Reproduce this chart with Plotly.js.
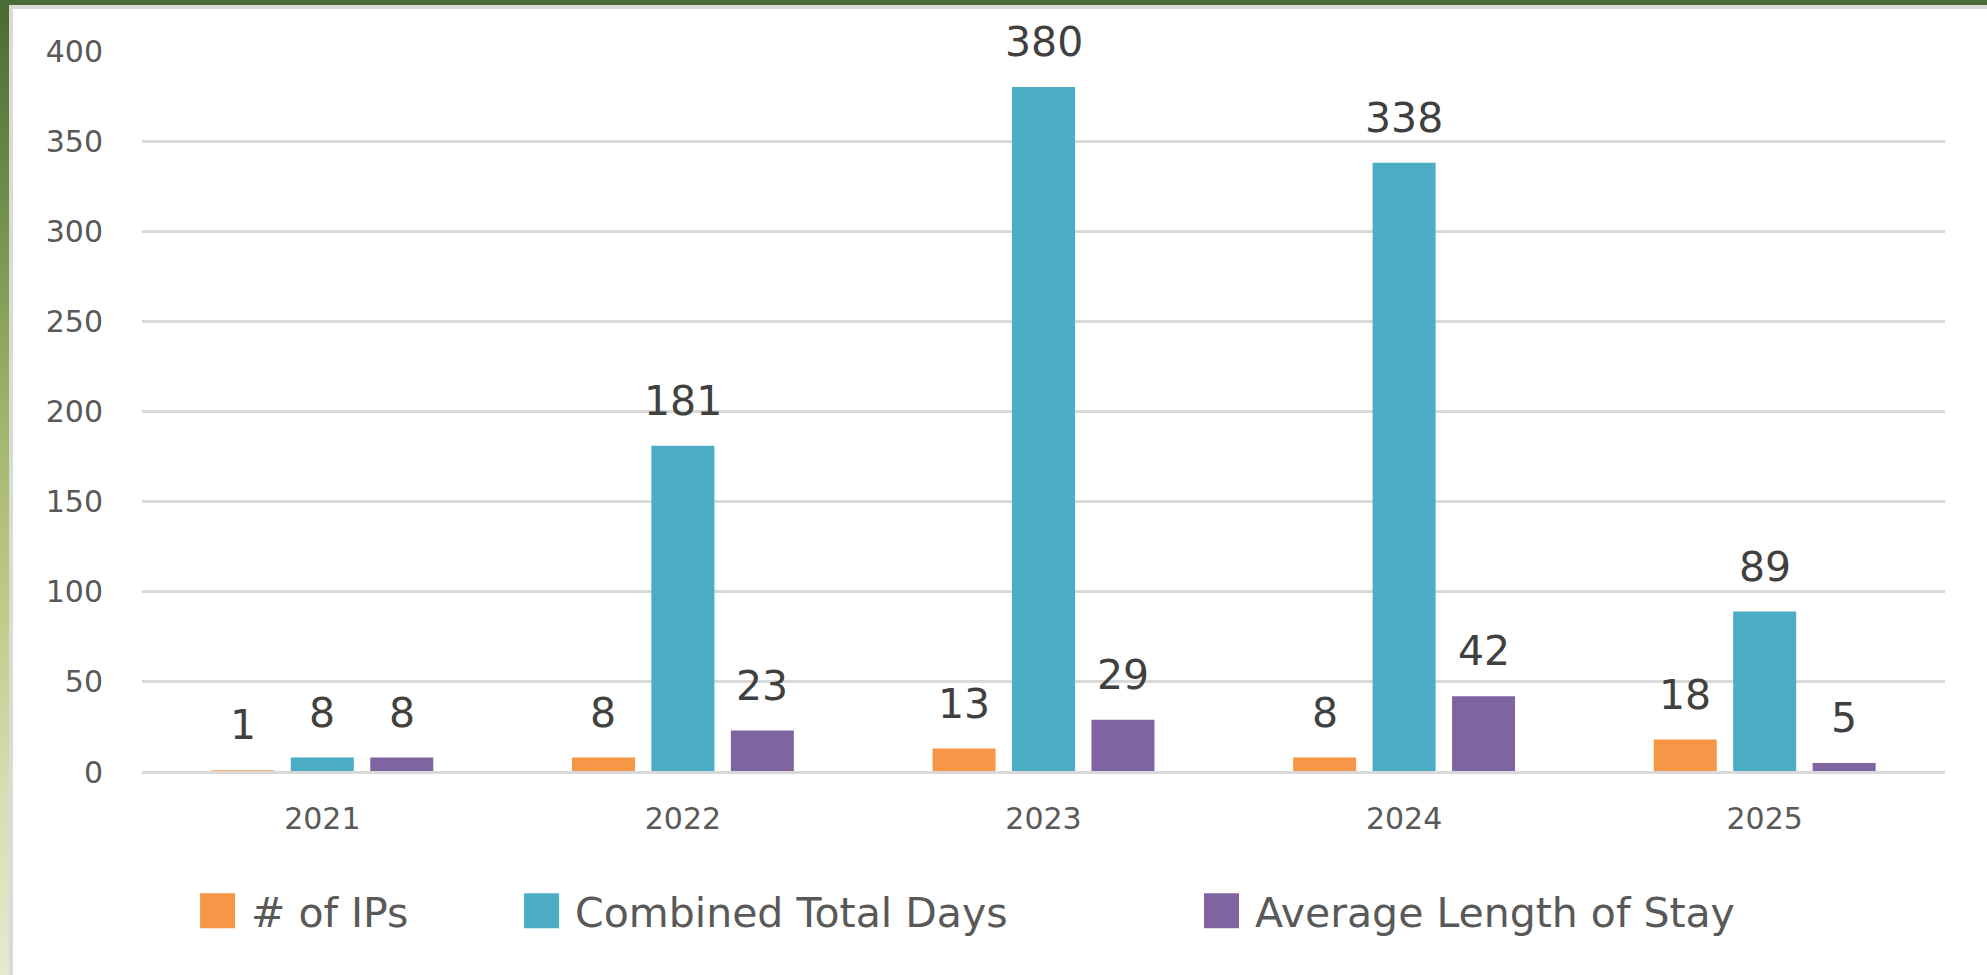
<!DOCTYPE html>
<html>
<head>
<meta charset="utf-8">
<script src="https://cdn.plot.ly/plotly-3.0.1.min.js"></script>
<style>
  html, body { margin: 0; padding: 0; width: 1987px; height: 975px; overflow: hidden; }
  body { background: linear-gradient(to bottom, #4a6a33 0%, #6e8d4a 20%, #a4b76f 45%, #bfca86 62%, #d5ddb0 80%, #e5eacd 100%); position: relative; }
  #topband { position: absolute; left: 0; top: 0; width: 1987px; height: 5px; background: #4c6b35; }
  #grayframe { position: absolute; left: 9px; top: 5px; width: 1978px; height: 970px; background: #dadada; }
  #chart { position: absolute; left: 13px; top: 9px; width: 1974px; height: 966px; background: #ffffff; }
</style>
</head>
<body>
<div id="topband"></div>
<div id="grayframe"></div>
<div id="chart"></div>
<script>
// ---- data ----
const years = ['2021', '2022', '2023', '2024', '2025'];
const numIPs = [1, 8, 13, 8, 18];
const combinedTotalDays = [8, 181, 380, 338, 89];
const avgLengthOfStay = [8, 23, 29, 42, 5];
const seriesNames = ['# of IPs', 'Combined Total Days', 'Average Length of Stay'];
const yTickVals = [0, 50, 100, 150, 200, 250, 300, 350, 400];

// ---- styling ----
const colors = ['#F79646', '#4BACC6', '#8064A2'];
const FONT = 'DejaVu Sans, Liberation Sans, Arial, sans-serif';
const W = 1974, H = 966;
const margin = { l: 129, r: 42, t: 42, b: 203 };
const bargap = 0.339, bargroupgap = 0.207;
const plotW = W - margin.l - margin.r;
const slot = plotW / years.length * (1 - bargap) / 3;

const seriesValues = [numIPs, combinedTotalDays, avgLengthOfStay];
const legendIds = ['legend', 'legend2', 'legend3'];

const traces = seriesValues.map((vals, s) => ({
  type: 'bar',
  name: seriesNames[s],
  x: years,
  y: vals,
  marker: { color: colors[s] },
  legend: legendIds[s],
  hoverinfo: 'skip'
}));

// value labels: category index (position of the year on the category axis)
const annotations = [];
seriesValues.forEach((vals, s) => {
  vals.forEach((v, i) => {
    annotations.push({
      x: i, y: v, xref: 'x', yref: 'y',
      text: String(v), showarrow: false,
      xanchor: 'center', yanchor: 'bottom',
      xshift: (s - 1) * slot, yshift: 19,
      font: { family: FONT, size: 41, color: '#404040' }
    });
  });
});

const legendBase = {
  orientation: 'h', yanchor: 'middle', xanchor: 'left', y: -0.193,
  itemwidth: 45,
  font: { family: FONT, size: 41, color: '#595959' },
  bgcolor: 'rgba(0,0,0,0)', borderwidth: 0
};

const layout = {
  width: W, height: H,
  margin: margin,
  paper_bgcolor: '#ffffff',
  plot_bgcolor: '#ffffff',
  barmode: 'group',
  bargap: bargap,
  bargroupgap: bargroupgap,
  showlegend: true,
  legend: Object.assign({}, legendBase, { x: 0.030 }),
  legend2: Object.assign({}, legendBase, { x: 0.2097 }),
  legend3: Object.assign({}, legendBase, { x: 0.5868 }),
  xaxis: {
    type: 'category',
    range: [-0.5, years.length - 0.5],
    autorange: false,
    showgrid: false, showline: false, zeroline: false,
    ticks: '',
    ticklabelstandoff: 26,
    tickfont: { family: FONT, size: 30, color: '#595959' }
  },
  yaxis: {
    range: [0, 400],
    autorange: false,
    tickvals: yTickVals,
    ticktext: yTickVals.map(String),
    showgrid: true, gridcolor: '#d9d9d9', gridwidth: 3,
    zeroline: true, zerolinecolor: '#d9d9d9', zerolinewidth: 3,
    zerolinelayer: 'above traces',
    showline: false, ticks: '',
    ticklabelstandoff: 38,
    tickfont: { family: FONT, size: 30, color: '#595959' }
  },
  annotations: annotations,
  hovermode: false
};

function fixLegendSymbols() {
  document.querySelectorAll('#chart .legendpoints path').forEach(p => {
    p.setAttribute('d', 'M11.5,17.5H-23.5V-17.5H11.5Z');
  });
}

const gd = document.getElementById('chart');
Plotly.newPlot(gd, traces, layout, { displayModeBar: false, staticPlot: true }).then(() => {
  fixLegendSymbols();
  gd.on('plotly_afterplot', fixLegendSymbols);
});
</script>
</body>
</html>
